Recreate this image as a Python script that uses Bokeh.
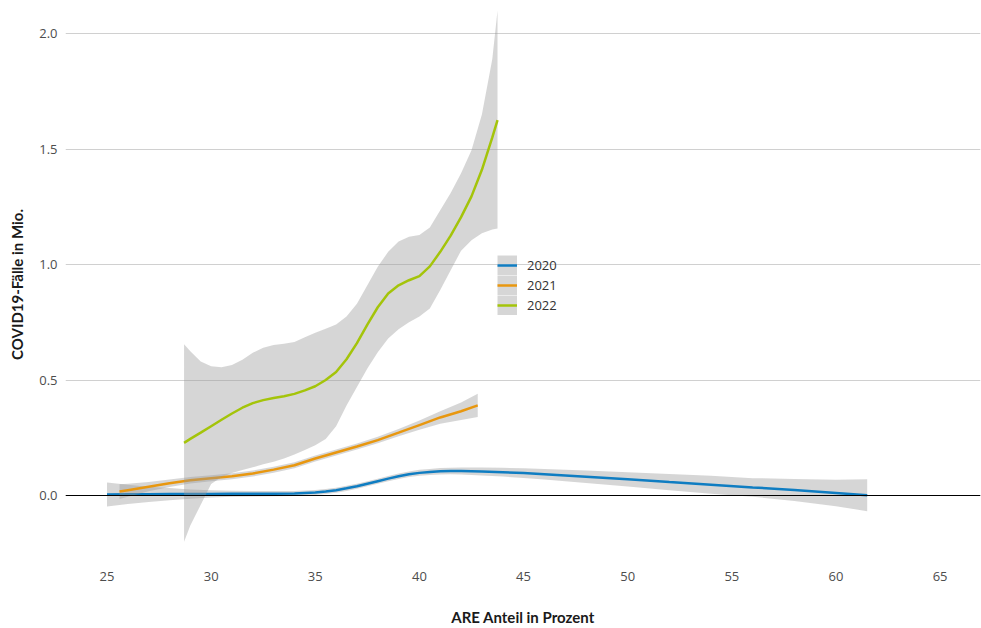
from bokeh.plotting import figure
from bokeh.models import FixedTicker, Span, Legend, LegendItem, Range1d, PrintfTickFormatter
from bokeh.embed import file_html
from bokeh.resources import INLINE

# ---- data ----
x_2020 = [25, 26, 27, 28, 29, 30, 31, 32, 33, 34, 35, 35.5, 36, 36.5, 37, 37.5, 38, 38.5, 39, 39.5,
          40, 40.5, 41, 41.5, 42, 43, 44, 45, 46, 48, 50, 52, 54, 56, 58, 60, 61.5]
y_2020 = [0.004, 0.005, 0.005, 0.006, 0.006, 0.007, 0.008, 0.008, 0.008, 0.009, 0.013, 0.017, 0.023,
          0.031, 0.040, 0.051, 0.062, 0.073, 0.083, 0.092, 0.098, 0.102, 0.105, 0.106, 0.106, 0.104,
          0.101, 0.097, 0.092, 0.081, 0.070, 0.058, 0.047, 0.035, 0.024, 0.011, 0.001]
lo_2020 = [-0.048, -0.037, -0.028, -0.020, -0.014, -0.009, -0.005, -0.004, -0.003, -0.002, 0.002,
           0.006, 0.012, 0.020, 0.029, 0.040, 0.051, 0.062, 0.071, 0.080, 0.085, 0.089, 0.091, 0.092,
           0.091, 0.087, 0.082, 0.076, 0.069, 0.054, 0.039, 0.023, 0.008, -0.005, -0.024, -0.046, -0.068]
hi_2020 = [0.056, 0.047, 0.038, 0.032, 0.026, 0.023, 0.021, 0.020, 0.019, 0.020, 0.024, 0.028, 0.034,
           0.042, 0.051, 0.062, 0.073, 0.084, 0.095, 0.104, 0.111, 0.115, 0.119, 0.120, 0.121, 0.121,
           0.120, 0.118, 0.115, 0.108, 0.101, 0.093, 0.086, 0.075, 0.072, 0.068, 0.070]

x_2021 = [25.6, 26, 27, 28, 29, 30, 31, 32, 33, 34, 35, 36, 37, 38, 39, 40, 41, 42, 42.8]
y_2021 = [0.017, 0.023, 0.038, 0.053, 0.066, 0.075, 0.083, 0.095, 0.112, 0.131, 0.160, 0.186, 0.212,
          0.240, 0.272, 0.305, 0.338, 0.365, 0.390]
lo_2021 = [-0.015, -0.005, 0.018, 0.037, 0.052, 0.062, 0.070, 0.082, 0.099, 0.118, 0.147, 0.173, 0.199,
           0.226, 0.256, 0.285, 0.311, 0.327, 0.340]
hi_2021 = [0.049, 0.051, 0.058, 0.069, 0.080, 0.088, 0.096, 0.108, 0.125, 0.144, 0.173, 0.199, 0.225,
           0.254, 0.288, 0.325, 0.365, 0.403, 0.440]

x_2022 = [28.7, 29, 29.5, 30, 30.5, 31, 31.5, 32, 32.5, 33, 33.5, 34, 34.5, 35, 35.5, 36, 36.5, 37,
          37.5, 38, 38.5, 39, 39.5, 40, 40.5, 41, 41.5, 42, 42.5, 43, 43.5, 43.75]
y_2022 = [0.228, 0.245, 0.272, 0.300, 0.328, 0.355, 0.380, 0.400, 0.413, 0.422, 0.430, 0.440, 0.455,
          0.473, 0.500, 0.535, 0.590, 0.660, 0.740, 0.815, 0.875, 0.910, 0.932, 0.950, 0.992, 1.055,
          1.125, 1.205, 1.295, 1.410, 1.550, 1.625]
lo_2022 = [-0.200, -0.130, -0.040, 0.050, 0.080, 0.097, 0.110, 0.122, 0.135, 0.146, 0.160, 0.178,
           0.197, 0.218, 0.245, 0.300, 0.390, 0.470, 0.550, 0.620, 0.680, 0.720, 0.750, 0.775, 0.810,
           0.890, 0.975, 1.060, 1.105, 1.135, 1.152, 1.156]
hi_2022 = [0.655, 0.625, 0.580, 0.560, 0.555, 0.565, 0.588, 0.618, 0.640, 0.652, 0.657, 0.665, 0.685,
           0.705, 0.722, 0.740, 0.775, 0.830, 0.910, 0.990, 1.055, 1.100, 1.120, 1.128, 1.160, 1.235,
           1.310, 1.395, 1.495, 1.650, 1.890, 2.100]

years = ["2020", "2021", "2022"]
colors = ["#0F7DC2", "#E8970F", "#A4C40A"]
x_ticks = [25, 30, 35, 40, 45, 50, 55, 60, 65]
y_ticks = [0.0, 0.5, 1.0, 1.5, 2.0]

series = [
    (x_2020, y_2020, lo_2020, hi_2020),
    (x_2021, y_2021, lo_2021, hi_2021),
    (x_2022, y_2022, lo_2022, hi_2022),
]

p = figure(width=981, height=628, output_backend="svg", toolbar_location=None,
           x_range=Range1d(23.007, 66.94), y_range=Range1d(-0.316, 2.143),
           min_border_left=65, min_border_right=1, min_border_top=0, min_border_bottom=60)
p.outline_line_color = None
p.background_fill_color = "white"
p.border_fill_color = "white"

NAN = float("nan")
items = []
for (xs, ys, lo, hi), yr, col in zip(series, years, colors):
    p.varea(x=xs, y1=lo, y2=hi, fill_color="#999999", fill_alpha=0.4)
    ln = p.line(x=xs, y=ys, line_color=col, line_width=2.5)
    # legend key background: a wide grey stroke shown only in the legend (no visible data)
    key_bg = p.line(x=[NAN], y=[NAN], line_color="#D6D6D6", line_width=20, line_cap="butt")
    items.append(LegendItem(label=yr, renderers=[key_bg, ln]))

zero = Span(location=0, dimension="width", line_color="black", line_width=1)
p.add_layout(zero)

# grid
p.xgrid.grid_line_color = None
p.ygrid.grid_line_color = "#D0D0D0"
p.ygrid.grid_line_width = 1
p.ygrid.ticker = FixedTicker(ticks=y_ticks)

# axes
p.xaxis.ticker = FixedTicker(ticks=x_ticks)
p.yaxis.ticker = FixedTicker(ticks=y_ticks)
p.yaxis.formatter = PrintfTickFormatter(format="%.1f")
for ax in (p.xaxis[0], p.yaxis[0]):
    ax.axis_line_color = None
    ax.major_tick_line_color = None
    ax.minor_tick_line_color = None
    ax.major_tick_out = 0
    ax.major_tick_in = 0
    ax.minor_tick_out = 0
    ax.minor_tick_in = 0
    ax.major_label_text_font = "Open Sans"
    ax.major_label_text_font_size = "13px"
    ax.major_label_text_color = "#4D4D4D"
    ax.axis_label_text_font = "Lato"
    ax.axis_label_text_font_style = "bold"
    ax.axis_label_text_font_size = "15px"
    ax.axis_label_text_color = "#1A1A1A"

p.xaxis.axis_label = "ARE Anteil in Prozent"
p.yaxis.axis_label = "COVID19-Fälle in Mio."
p.xaxis.major_label_standoff = 3
p.xaxis.axis_label_standoff = 24
p.yaxis.major_label_standoff = 8
p.yaxis.axis_label_standoff = 10

legend = Legend(items=items, location=(432, 253), padding=0, margin=0, spacing=0,
                glyph_width=20, glyph_height=20, label_height=20, label_standoff=10,
                background_fill_alpha=0, border_line_alpha=0,
                label_text_font="Open Sans", label_text_font_size="13px",
                label_text_color="#333333")
p.add_layout(legend)

open("out.html", "w").write(file_html(p, INLINE))
